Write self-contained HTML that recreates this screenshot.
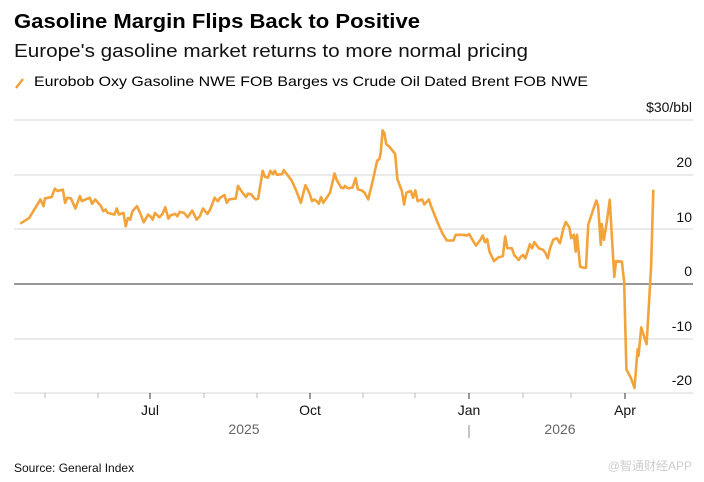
<!DOCTYPE html>
<html><head><meta charset="utf-8"><style>
html,body{margin:0;padding:0;background:#fff;}
svg{display:block;font-family:"Liberation Sans",Arial,sans-serif;}
</style></head><body>
<svg width="704" height="482" viewBox="0 0 704 482" xmlns="http://www.w3.org/2000/svg">
<text x="14" y="28" font-size="20" font-weight="bold" fill="#000" textLength="406" lengthAdjust="spacingAndGlyphs">Gasoline Margin Flips Back to Positive</text>
<text x="14" y="57" font-size="18" fill="#111" textLength="514" lengthAdjust="spacingAndGlyphs">Europe's gasoline market returns to more normal pricing</text>
<line x1="16" y1="88" x2="23" y2="79" stroke="#f2a33a" stroke-width="2.5"/>
<text x="34" y="86" font-size="14" fill="#000" textLength="554" lengthAdjust="spacingAndGlyphs">Eurobob Oxy Gasoline NWE FOB Barges vs Crude Oil Dated Brent FOB NWE</text>
<g stroke="#d4d4d4" stroke-width="1">
<line x1="14" y1="120" x2="693" y2="120"/>
<line x1="14" y1="175" x2="693" y2="175"/>
<line x1="14" y1="229" x2="693" y2="229"/>
<line x1="14" y1="339" x2="693" y2="339"/>
<line x1="14" y1="393" x2="693" y2="393"/>
</g>
<line x1="14" y1="284" x2="693" y2="284" stroke="#333" stroke-width="1"/>
<g font-size="14" fill="#111" text-anchor="end">
<text x="692" y="112">$30/bbl</text>
<text x="692" y="167">20</text>
<text x="692" y="222">10</text>
<text x="692" y="276">0</text>
<text x="692" y="331">-10</text>
<text x="692" y="385">-20</text>
</g>
<g stroke="#bbb" stroke-width="1">
<line x1="45" y1="393" x2="45" y2="398"/><line x1="98" y1="393" x2="98" y2="398"/>
<line x1="204" y1="393" x2="204" y2="398"/><line x1="257" y1="393" x2="257" y2="398"/>
<line x1="363" y1="393" x2="363" y2="398"/><line x1="415" y1="393" x2="415" y2="398"/>
<line x1="523" y1="393" x2="523" y2="398"/><line x1="571" y1="393" x2="571" y2="398"/>
</g>
<g stroke="#333" stroke-width="1">
<line x1="150" y1="393" x2="150" y2="399"/><line x1="310" y1="393" x2="310" y2="399"/>
<line x1="469" y1="393" x2="469" y2="399"/><line x1="625" y1="393" x2="625" y2="399"/>
</g>
<g font-size="14" fill="#111" text-anchor="middle">
<text x="150" y="415">Jul</text><text x="310" y="415">Oct</text>
<text x="469" y="415">Jan</text><text x="625" y="415">Apr</text>
</g>
<g font-size="14" fill="#666" text-anchor="middle">
<text x="244" y="434">2025</text><text x="560" y="434">2026</text>
</g>
<line x1="469" y1="425" x2="469" y2="438" stroke="#888" stroke-width="1"/>
<text x="14" y="472" font-size="12" fill="#111">Source: General Index</text>
<text x="692" y="470" font-size="12" fill="#ccc" text-anchor="end" font-family="'Liberation Sans','Noto Sans CJK SC',sans-serif">@智通财经APP</text>
<g transform="translate(0,90) scale(0.44903,0.33670)">
<polyline fill="none" stroke="#f2a33a" stroke-width="2.6" vector-effect="non-scaling-stroke" stroke-linejoin="round" points="45,397 65,380 90,325 97,345 100,322 115,318 122,293 128,300 140,296 145,335 150,320 158,322 168,352 178,315 182,330 200,320 205,338 212,325 225,345 230,360 235,355 240,365 255,370 260,352 265,370 275,365 280,405 285,380 290,385 295,360 305,345 312,365 320,393 330,370 335,375 340,385 345,365 355,378 362,368 368,348 375,382 380,372 390,368 395,375 400,362 410,365 418,378 428,358 438,385 445,375 452,352 462,368 468,355 478,320 485,330 490,320 500,312 505,335 510,325 525,322 530,285 540,305 548,318 552,308 560,310 565,320 570,325 575,322 585,240 590,258 597,260 602,240 608,250 612,240 617,252 628,250 632,238 640,252 650,270 655,285 660,300 670,335 680,283 685,295 690,310 695,330 700,325 705,330 710,338 715,318 720,335 725,325 735,305 745,248 750,268 760,290 765,292 768,285 775,292 785,290 792,262 797,295 805,298 812,305 820,325 830,270 840,210 845,205 848,185 852,120 856,128 860,160 868,170 880,190 885,265 895,300 900,340 905,305 915,300 920,320 925,298 930,330 940,325 945,340 955,325 960,345 975,395 985,425 995,447 1010,447 1015,430 1030,430 1040,432 1045,428 1050,440 1060,462 1070,445 1075,432 1080,452 1085,443 1090,480 1100,508 1110,497 1120,493 1125,435 1130,470 1140,470 1145,490 1155,505 1160,495 1165,490 1170,500 1175,480 1180,458 1185,470 1190,452 1200,470 1210,475 1215,485 1220,500 1225,470 1232,445 1240,440 1247,455 1255,410 1260,392 1268,408 1272,440 1278,430 1282,480 1285,430 1292,525 1300,528 1305,528 1310,400 1320,360 1328,328 1332,345 1338,460 1340,398 1345,445 1352,385 1358,326 1362,420 1368,555 1372,508 1385,510 1390,570 1395,830 1405,855 1413,885 1420,770 1422,790 1428,705 1435,735 1440,755 1450,525 1455,296"/>
</g>
</svg>
</body></html>
